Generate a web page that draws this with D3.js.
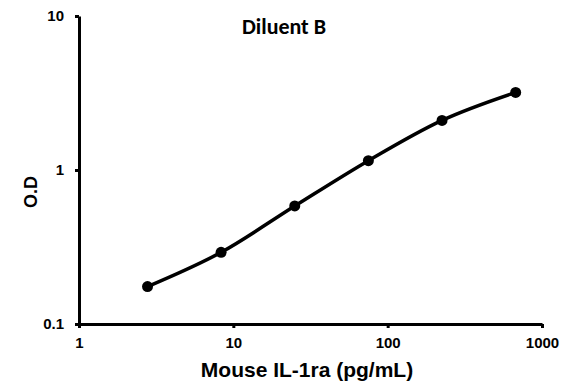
<!DOCTYPE html>
<html>
<head>
<meta charset="utf-8">
<script src="https://cdn.jsdelivr.net/npm/d3@7"></script>
<style>
  body { margin: 0; background: #fff; }
  .axis path, .axis line { stroke: #000; stroke-width: 3px; }
  .axis text { font-family: Arial, "Liberation Sans", sans-serif; font-weight: bold; font-size: 15px; fill: #000; }
</style>
</head>
<body>
<div class="chart-main"></div>
<script>
////////////
// DATA   //
////////////

var conc = [2.78, 8.33, 25, 75, 225, 675];
var od = [0.175, 0.292, 0.584, 1.15, 2.10, 3.19];
var xTicks = [1, 10, 100, 1000];
var yTicks = [0.1, 1, 10];

var w = 569, h = 384;

var svg = d3.select('.chart-main')
    .append('svg')
    .attr('width', w)
    .attr('height', h);

////////////
// SCALES //
////////////

var xScale = d3.scaleLog()
    .domain([1, 1000])
    .range([79, 542]);

var yScale = d3.scaleLog()
    .domain([0.1, 10])
    .range([324, 16]);

//////////
// AXIS //
//////////

var xAxis = d3.axisBottom(xScale)
    .tickValues(xTicks)
    .tickSize(4)
    .tickPadding(9)
    .tickSizeOuter(0)
    .tickFormat(d3.format(''));

svg.append('g')
    .attr('class', 'axis')
    .attr('transform', 'translate(0,324)')
    .call(xAxis);

var yAxis = d3.axisLeft(yScale)
    .tickValues(yTicks)
    .tickSize(4)
    .tickPadding(11)
    .tickSizeOuter(0)
    .tickFormat(d3.format(''));

svg.append('g')
    .attr('class', 'axis')
    .attr('transform', 'translate(79,0)')
    .call(yAxis);

//////////
// LINE //
//////////

var pts = conc.map(function(c, i) { return [c, od[i]]; });

var line = d3.line()
    .x(function(d) { return xScale(d[0]); })
    .y(function(d) { return yScale(d[1]); })
    .curve(d3.curveMonotoneX);

svg.append('path')
    .datum(pts)
    .attr('d', line)
    .attr('fill', 'none')
    .attr('stroke', '#000')
    .attr('stroke-width', 3.5);

svg.selectAll('.dot')
    .data(pts)
    .enter()
    .append('circle')
    .attr('class', 'dot')
    .attr('cx', function(d) { return xScale(d[0]); })
    .attr('cy', function(d) { return yScale(d[1]); })
    .attr('r', 5.5)
    .attr('fill', '#000');

////////////
// LABELS //
////////////

svg.append('text')
    .attr('x', 284)
    .attr('y', 34)
    .attr('text-anchor', 'middle')
    .style('font-family', 'Carlito, Calibri, "Open Sans", sans-serif')
    .style('font-weight', 'bold')
    .style('font-size', '22px')
    .text('Diluent B');

svg.append('text')
    .attr('x', 307)
    .attr('y', 377)
    .attr('text-anchor', 'middle')
    .style('font-family', 'Arial, "Liberation Sans", sans-serif')
    .style('font-weight', 'bold')
    .style('font-size', '21px')
    .text('Mouse IL-1ra (pg/mL)');

svg.append('text')
    .attr('transform', 'translate(37,192) rotate(-90)')
    .attr('text-anchor', 'middle')
    .style('font-family', 'Arial, "Liberation Sans", sans-serif')
    .style('font-weight', 'bold')
    .style('font-size', '18px')
    .text('O.D');
</script>
</body>
</html>
